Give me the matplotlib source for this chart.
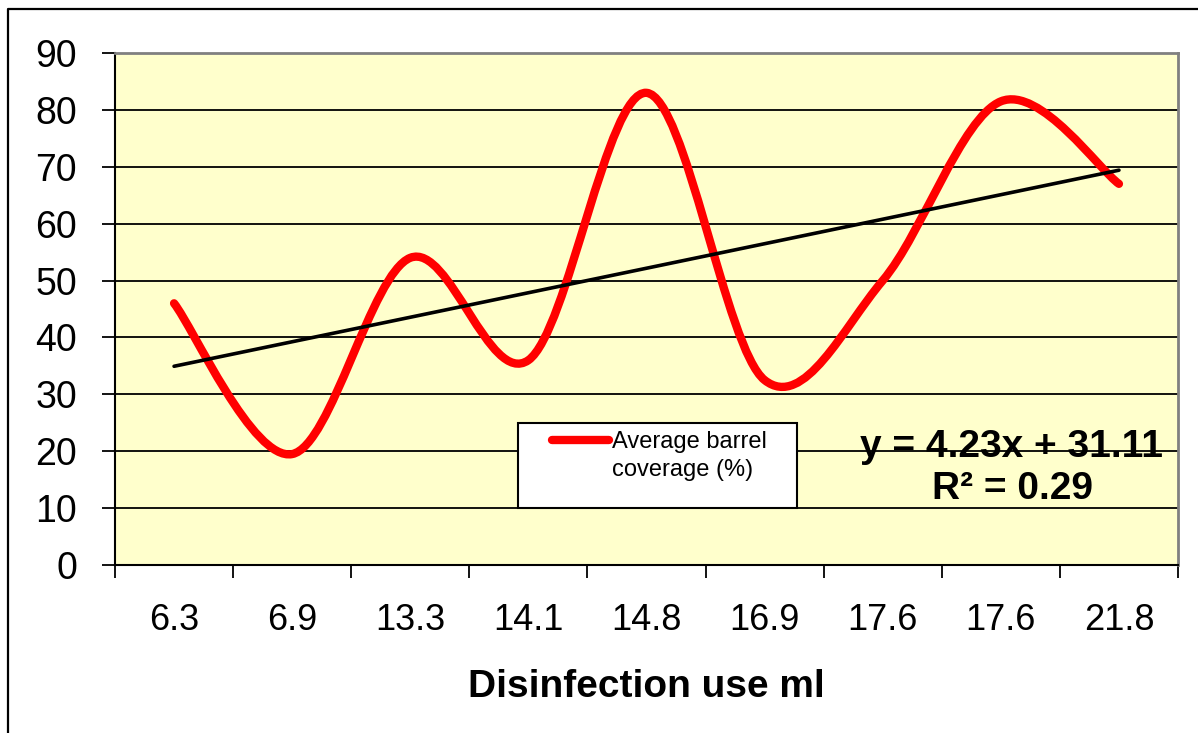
import numpy as np
import matplotlib
matplotlib.use("Agg")
import matplotlib.pyplot as plt
from matplotlib.path import Path
from matplotlib.patches import PathPatch, Rectangle
from matplotlib.lines import Line2D

plt.rcParams['font.family'] = ['Liberation Sans', 'DejaVu Sans']

# chart data
categories = ["6.3", "6.9", "13.3", "14.1", "14.8", "16.9", "17.6", "17.6", "21.8"]
coverage = [46, 19.5, 54, 36, 83, 32.5, 50, 81.5, 67]
y_ticks = [0, 10, 20, 30, 40, 50, 60, 70, 80, 90]
series_label = "Average barrel\ncoverage (%)"
trend_label = "y = 4.23x + 31.11\nR\u00b2 = 0.29"
x_title = "Disinfection use ml"

W, H = 1198, 733


def fx(px):
    return px / W


def fy(py):
    return 1 - py / H


def smooth_path(xs, ys):
    """Excel-like smoothed line: bezier segments with catmull-rom handles."""
    pts = np.column_stack([xs, ys]).astype(float)
    n = len(pts)
    verts = [pts[0]]
    codes = [Path.MOVETO]
    for i in range(n - 1):
        p0 = pts[max(i - 1, 0)]
        p1 = pts[i]
        p2 = pts[i + 1]
        p3 = pts[min(i + 2, n - 1)]
        verts += [p1 + (p2 - p0) / 6, p2 - (p3 - p1) / 6, p2]
        codes += [Path.CURVE4] * 3
    return Path(verts, codes)


fig = plt.figure(figsize=(W / 100, H / 100), dpi=100)
ax = fig.add_axes([fx(115), fy(565), fx(1178) - fx(115), fy(53) - fy(565)])
ax.set_facecolor("#FFFFCC")

x = np.arange(1, len(coverage) + 1)

# smoothed series
curve = PathPatch(smooth_path(x, coverage), fill=False, edgecolor="#FF0000",
                  lw=6, capstyle="round", joinstyle="round", zorder=3)
ax.add_patch(curve)

# linear trendline
slope, icept = np.polyfit(x, coverage, 1)
ax.plot([x[0], x[-1]], np.polyval([slope, icept], [x[0], x[-1]]),
        color="black", lw=2.6, solid_capstyle="round", zorder=4)

ax.set_xlim(0.5, len(coverage) + 0.5)
ax.set_ylim(0, 90)
ax.set_yticks(y_ticks)
ax.set_xticks(x)
ax.set_xticklabels(categories)
ax.set_xticks(np.arange(0.5, len(coverage) + 1), minor=True)

ax.tick_params(axis="y", direction="out", length=9.4, width=1.3, pad=18,
               labelsize=27, color="black")
ax.tick_params(axis="x", which="major", length=0, pad=27, labelsize=26)
ax.tick_params(axis="x", which="minor", direction="out", length=9.4, width=1.3)

ax.yaxis.grid(True, color="black", lw=1.3)
ax.set_axisbelow(True)

for side in ["left", "bottom"]:
    ax.spines[side].set_color("black")
    ax.spines[side].set_linewidth(1.5)
for side in ["top", "right"]:
    ax.spines[side].set_color("#808080")
    ax.spines[side].set_linewidth(2)

ax.set_xlabel(x_title, fontsize=28, fontweight="bold")
ax.xaxis.set_label_coords(0.5, -0.203)
ax.xaxis.label.set_va("top")

# trendline equation
fig.text(fx(1012), fy(468), trend_label, ha="center", va="center",
         multialignment="center", fontsize=28, fontweight="bold",
         linespacing=1.22)

# legend box
fig.add_artist(Rectangle((fx(518), fy(508)), fx(797) - fx(518), fy(423) - fy(508),
                         transform=fig.transFigure, facecolor="white",
                         edgecolor="black", lw=1.5))
fig.add_artist(Line2D([fx(552), fx(609)], [fy(440), fy(440)],
                      transform=fig.transFigure, color="#FF0000", lw=6,
                      solid_capstyle="round"))
fig.text(fx(612), fy(456), series_label, ha="left", va="center",
         fontsize=17, linespacing=1.3)

# outer chart frame (cut at right and bottom)
fig.add_artist(Line2D([fx(8), fx(8), 1], [0, fy(9), fy(9)],
                      transform=fig.transFigure, color="black", lw=1.6))

fig.savefig("out.png", dpi=100)
